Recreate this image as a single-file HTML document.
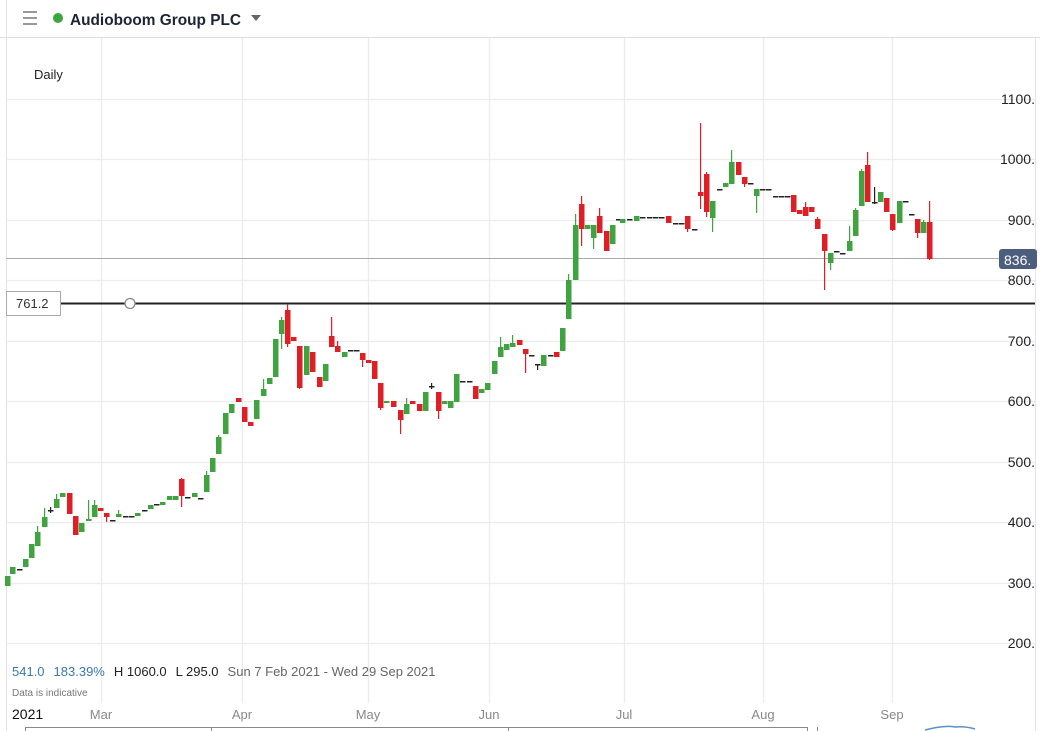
<!DOCTYPE html>
<html><head><meta charset="utf-8"><style>
body{margin:0;width:1040px;height:731px;overflow:hidden;background:#fff;font-family:"Liberation Sans",sans-serif;}
</style></head><body>
<svg id="s" width="1040" height="731" xmlns="http://www.w3.org/2000/svg" style="position:absolute;left:0;top:0">
<rect width="1040" height="731" fill="#fff"/>
<line x1="0" y1="37.5" x2="1040" y2="37.5" stroke="#ddd"/>
<line x1="6.5" y1="0" x2="6.5" y2="731" stroke="#e2e2e2"/>
<line x1="1035.5" y1="38" x2="1035.5" y2="731" stroke="#dfe6ee"/>
<g stroke="#999" stroke-width="2"><line x1="23" y1="12" x2="37" y2="12"/><line x1="23" y1="18" x2="37" y2="18"/><line x1="23" y1="24" x2="37" y2="24"/></g>
<circle cx="58" cy="18" r="5" fill="#3aa63e"/>
<text x="70" y="25" font-size="16" font-weight="bold" fill="#1d2433" textLength="171" lengthAdjust="spacingAndGlyphs">Audioboom Group PLC</text>
<path d="M251 15 L261 15 L256 21Z" fill="#666"/>
<text x="34" y="79" font-size="13" fill="#222">Daily</text>
<g id="grid" stroke="#ececec" stroke-width="1.3"></g>
<line x1="6" y1="258.5" x2="1035" y2="258.5" stroke="#aaa"/>
<line x1="6" y1="303.5" x2="1035" y2="303.5" stroke="#222" stroke-width="2"/>
<rect x="6.5" y="291.5" width="54" height="24" fill="#fff" stroke="#aaa"/>
<text x="16" y="308" font-size="13" fill="#333">761.2</text>
<circle cx="130" cy="303.5" r="5" fill="#fff" stroke="#888" stroke-width="1.3"/>
<g id="c"></g>
<g id="yl" font-size="14" fill="#222"></g>
<rect x="999" y="249" width="38" height="20" rx="3" fill="#4d5e7c"/>
<text x="1004" y="265" font-size="14" fill="#fff">836.</text>
<text x="12" y="676" font-size="13"><tspan fill="#3a78b0">541.0</tspan><tspan dx="9" fill="#3a78b0">183.39%</tspan><tspan dx="9" fill="#222">H 1060.0</tspan><tspan dx="9" fill="#222">L 295.0</tspan><tspan dx="9" fill="#666">Sun 7 Feb 2021 - Wed 29 Sep 2021</tspan></text>
<text x="12" y="696" font-size="10" fill="#777">Data is indicative</text>
<text x="12" y="719" font-size="14" fill="#111">2021</text>
<g font-size="13" fill="#888" text-anchor="middle"><text x="101" y="719">Mar</text><text x="242" y="719">Apr</text><text x="368" y="719">May</text><text x="489" y="719">Jun</text><text x="624" y="719">Jul</text><text x="763" y="719">Aug</text><text x="892" y="719">Sep</text></g>
<line x1="25" y1="727.5" x2="808" y2="727.5" stroke="#888"/>
<line x1="25.5" y1="727" x2="25.5" y2="731" stroke="#888"/><line x1="211.5" y1="727" x2="211.5" y2="731" stroke="#888"/><line x1="508.5" y1="727" x2="508.5" y2="731" stroke="#888"/><line x1="807.5" y1="727" x2="807.5" y2="731" stroke="#888"/><line x1="817.5" y1="727" x2="817.5" y2="731" stroke="#888"/>
<path d="M925 730 Q945 725 955 727 Q965 726 975 729" stroke="#5a90c8" fill="none" stroke-width="1.5"/>
</svg>
<script>
var s="http://www.w3.org/2000/svg";
function el(p,t,a){var e=document.createElementNS(s,t);for(var k in a)e.setAttribute(k,a[k]);p.appendChild(e);return e;}
var g=document.getElementById('grid');
[99,159,220,280,341,401,462,522,583,643].forEach(function(y){el(g,'line',{x1:6,y1:y+.5,x2:1035,y2:y+.5});});
[101,242,368,489,624,763,892].forEach(function(x){el(g,'line',{x1:x+.5,y1:38,x2:x+.5,y2:703});});
var yl=document.getElementById('yl');
[[1100,99],[1000,159],[900,220],[800,280],[700,341],[600,401],[500,462],[400,522],[300,583],[200,643]].forEach(function(v){var t=el(yl,'text',{x:1035,y:v[1]+5,'text-anchor':'end'});t.textContent=v[0]+'.';});
var D=[
[8,576,586,0,0,'g'],[13,567,574,0,0,'g'],[20,569,569,0,0,'k'],[26,559,567,0,0,'g'],[32,544,558,0,0,'g'],[38,532,546,526,546,'g'],[45,517,527,508,527,'g'],[51,510,510,507,513,'k'],[57,499,508,494,508,'g'],[63,493,497,0,0,'g'],[70,493,514,0,0,'r'],[76,516,535,0,0,'r'],[82,523,532,0,0,'g'],[89,519,521,500,521,'g'],[95,505,517,500,517,'g'],[101,508,511,0,0,'r'],[107,513,517,513,522,'r'],[113,520,520,0,0,'k'],[119,514,517,510,517,'g'],[126,516,516,0,0,'k'],[132,516,516,0,0,'k'],[138,513,516,0,0,'g'],[145,510,510,0,0,'k'],[151,505,509,0,0,'g'],[157,504,504,0,0,'k'],[163,502,505,0,0,'g'],[170,496,500,0,0,'g'],[176,496,500,0,0,'g'],[182,479,496,478,507,'r'],[188,497,497,0,0,'k'],[195,493,497,0,0,'g'],[201,498,498,0,0,'k'],[207,475,492,471,492,'g'],[213,458,472,0,0,'g'],[219,437,454,435,454,'g'],[226,413,434,0,0,'g'],[232,404,413,0,0,'g'],[239,398,402,0,0,'r'],[245,407,422,0,0,'r'],[251,422,426,0,0,'r'],[257,400,419,0,0,'g'],[264,389,396,379,396,'g'],[270,378,384,0,0,'g'],[276,339,377,0,0,'g'],[282,320,334,317,349,'g'],[288,310,344,304,347,'r'],[294,337,341,0,0,'r'],
[300,346,388,346,389,'r'],[307,346,375,0,0,'g'],[313,352,372,0,0,'r'],[320,377,387,0,0,'r'],[326,364,381,0,0,'g'],[332,336,347,317,347,'r'],[338,346,352,341,352,'r'],[345,352,357,0,0,'g'],[351,350,350,0,0,'k'],[357,350,350,0,0,'k'],[363,353,360,353,367,'r'],[369,360,363,0,0,'r'],[375,361,379,0,0,'r'],[381,383,408,383,410,'r'],[387,401,403,0,0,'g'],[394,401,407,0,0,'r'],[401,410,420,410,434,'r'],[407,404,414,398,414,'g'],[413,401,404,0,0,'r'],[420,404,411,0,0,'r'],[426,392,411,0,0,'g'],[432,386,386,383,389,'k'],[439,392,411,392,419,'r'],[445,401,404,0,0,'g'],[451,401,408,0,0,'g'],[457,374,402,0,0,'g'],[463,381,381,0,0,'k'],[470,381,381,0,0,'k'],[476,386,399,0,0,'r'],[482,389,393,0,0,'g'],[488,383,390,0,0,'g'],[495,361,374,0,0,'g'],[501,347,357,337,357,'g'],[507,344,350,0,0,'g'],[513,343,347,335,347,'g'],[520,340,345,0,0,'r'],[526,349,354,349,373,'r'],[532,355,355,0,0,'k'],[538,364,364,364,370,'k'],[544,355,366,0,0,'g'],[551,355,355,0,0,'k'],[557,352,357,0,0,'r'],[563,328,351,0,0,'g'],[569,280,319,274,319,'g'],[576,225,280,214,280,'g'],[582,204,229,196,246,'r'],[588,225,229,0,0,'g'],[594,225,238,225,249,'g'],[600,216,233,208,233,'r'],[607,231,251,0,0,'r'],[613,225,244,0,0,'g'],[619,219,219,0,0,'k'],
[623,219,223,0,0,'g'],[630,219,219,0,0,'k'],[637,216,221,0,0,'g'],[643,217,217,0,0,'k'],[650,217,217,0,0,'k'],[656,217,217,0,0,'k'],[662,217,217,0,0,'k'],[669,216,223,0,0,'r'],[676,223,223,0,0,'k'],[682,223,223,0,0,'k'],[688,216,229,216,232,'r'],[695,229,229,0,0,'k'],[701,192,196,123,209,'r'],[707,174,212,172,217,'r'],[713,201,218,201,232,'g'],[720,189,189,0,0,'k'],[726,183,187,0,0,'g'],[732,162,184,150,184,'g'],[739,162,175,0,0,'r'],[745,177,184,177,187,'r'],[751,183,183,0,0,'k'],[757,189,196,189,213,'g'],[763,189,189,0,0,'k'],[769,189,189,0,0,'k'],[776,196,196,0,0,'k'],[782,196,196,0,0,'k'],[788,196,196,0,0,'k'],[794,195,212,0,0,'r'],[800,210,214,0,0,'r'],[806,207,216,202,216,'r'],[812,207,212,0,0,'r'],[818,219,229,217,229,'r'],[825,234,251,234,290,'r'],[831,253,263,253,270,'g'],[837,251,251,0,0,'k'],[843,253,253,0,0,'k'],[850,241,251,226,251,'g'],[856,210,236,208,236,'g'],[862,171,206,169,206,'g'],[868,165,202,152,202,'r'],[875,202,202,187,204,'k'],[881,192,202,0,0,'g'],[887,198,212,0,0,'r'],[893,214,230,214,231,'r'],[900,201,223,0,0,'g'],[906,201,201,0,0,'k'],[912,214,214,0,0,'k'],[918,219,233,219,238,'r'],[924,222,233,220,233,'g'],[930,222,259,201,260,'r']];
var c=document.getElementById('c');var col={g:'#3fa33f',r:'#de1f26',k:'#222'};
D.forEach(function(d){var x=d[0]-0.5,f=col[d[5]];
if(d[3]||d[4])el(c,'rect',{x:x-0.5,y:d[3],width:1.2,height:Math.max(1,d[4]-d[3]),fill:f});
var h=Math.max(d[2]-d[1],1.5);el(c,'rect',{x:x-2.5,y:d[1],width:5.5,height:h,fill:f});});
</script>
</body></html>
